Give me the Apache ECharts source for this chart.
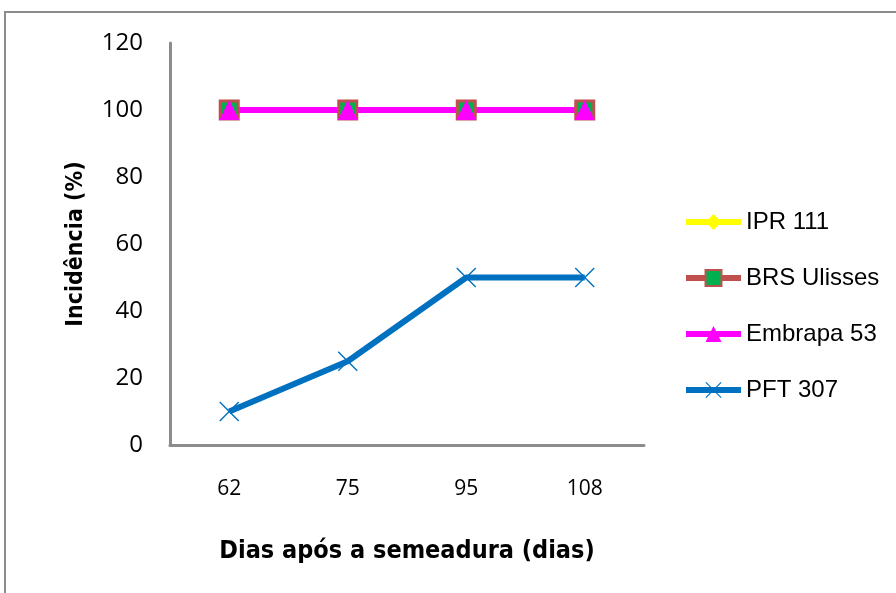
<!DOCTYPE html>
<html><head><meta charset="utf-8">
<script src="https://cdn.jsdelivr.net/npm/echarts@6/dist/echarts.min.js"></script>
<style>html,body{margin:0;padding:0;background:#fff}#c{width:896px;height:593px}</style>
</head><body><div id="c"></div>
<script>
const categories = ['62', '75', '95', '108'];
const ipr111 = [100, 100, 100, 100];
const brsUlisses = [100, 100, 100, 100];
const embrapa53 = [100, 100, 100, 100];
const pft307 = [10, 25, 50, 50];
const yTicks = { min: 0, max: 120, interval: 20 };

const crossPath = 'path://M0,1L1,0L10,9L19,0L20,1L11,10L20,19L19,20L10,11L1,20L0,19L9,10Z';
const font = '"Liberation Sans Narrow", "Open Sans", sans-serif';
const chart = echarts.init(document.getElementById('c'), null, { renderer: 'canvas' });
chart.setOption({
  animation: false,
  graphic: [{ type: 'rect', shape: { x: 5, y: 12, width: 1000, height: 1000 }, style: { fill: 'none', stroke: '#8c8c8c', lineWidth: 2 }, z: -1 }],
  grid: { left: 170, right: 252, top: 43, bottom: 148 },
  legend: {
    orient: 'vertical', left: 678, top: 205, itemWidth: 55, itemHeight: 20, itemGap: 32,
    lineStyle: { width: 6 },
    textStyle: { fontSize: 24, color: '#000', fontFamily: '"Liberation Sans Narrow", sans-serif' },
    data: ['IPR 111', 'BRS Ulisses', 'Embrapa 53', 'PFT 307']
  },
  xAxis: {
    type: 'category', data: categories,
    axisLine: { lineStyle: { color: '#8c8c8c', width: 3 } },
    axisTick: { show: false },
    axisLabel: { fontSize: 21, color: '#000', margin: 34, fontFamily: font },
    name: 'Dias após a semeadura (dias)', nameLocation: 'middle', nameGap: 94,
    nameTextStyle: { fontSize: 25, fontWeight: 'bold', color: '#000', fontFamily: '"DejaVu Sans Condensed", "DejaVu Sans", sans-serif' }
  },
  yAxis: {
    type: 'value', min: yTicks.min, max: yTicks.max, interval: yTicks.interval,
    axisLine: { show: true, lineStyle: { color: '#8c8c8c', width: 3 } },
    axisTick: { show: false }, splitLine: { show: false },
    axisLabel: { fontSize: 24, color: '#000', margin: 27, fontFamily: font },
    name: 'Incidência (%)', nameLocation: 'middle', nameGap: 82, nameRotate: 90,
    nameTextStyle: { fontSize: 23, fontWeight: 'bold', color: '#000', fontFamily: '"DejaVu Sans Condensed", sans-serif' }
  },
  series: [
    { name: 'IPR 111', type: 'line', data: ipr111, symbol: 'diamond', symbolSize: 20,
      lineStyle: { color: '#FFFF00', width: 6 }, itemStyle: { color: '#FFFF00' } },
    { name: 'BRS Ulisses', type: 'line', data: brsUlisses, symbol: 'rect', symbolSize: 18,
      lineStyle: { color: '#C0504D', width: 6 }, itemStyle: { color: '#00B050', borderColor: '#C0504D', borderWidth: 3 } },
    { name: 'Embrapa 53', type: 'line', data: embrapa53, symbol: 'triangle', symbolSize: 20,
      lineStyle: { color: '#FF00FF', width: 6 }, itemStyle: { color: '#FF00FF' } },
    { name: 'PFT 307', type: 'line', data: pft307, symbol: crossPath, symbolSize: 20,
      lineStyle: { color: '#0070C0', width: 6 }, itemStyle: { color: '#0070C0' } }
  ]
});
</script></body></html>
